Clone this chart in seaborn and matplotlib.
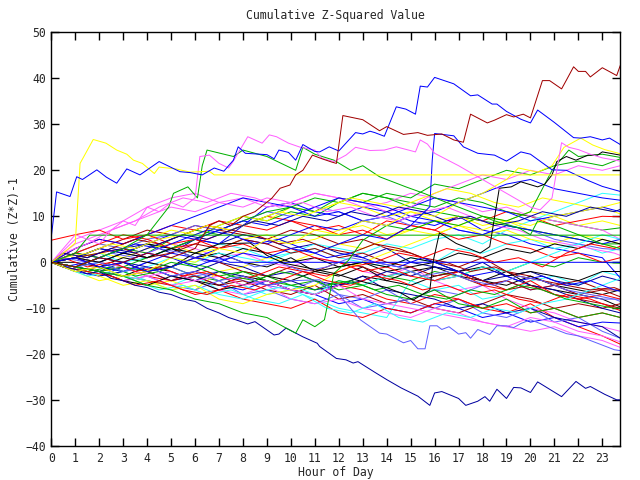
import matplotlib
matplotlib.use("Agg")
import matplotlib.pyplot as plt
import seaborn as sns
import pandas as pd

# ---------------- colours (gnuplot-like) ----------------
RED, GREEN, BLUE, PINK, CYAN = "#ff0000", "#00b000", "#0000ff", "#ff60ff", "#30ffff"
DKRED, YELLOW, BLACK, LTBLUE, NAVY = "#a00000", "#ffff00", "#000000", "#6060ff", "#0000a0"

TITLE = "Cumulative Z-Squared Value"
XLABEL = "Hour of Day"
YLABEL = "Cumulative (Z*Z)-1"
X_TICKS = list(range(0, 24))
Y_TICKS = list(range(-40, 51, 10))

# shared hourly grid for the background "crowd" of series
HOURS = list(range(0, 24)) + [23.75]
# second grid, offset by half an hour
HOURS_B = [0] + [h + 0.5 for h in range(0, 24)] + [23.75]

c01 = [0, -1, -2, -1, -3, -4, -2, -3, -5, -4, -6, -7, -5, -6, -8, -9, -7, -8, -10, -11, -9, -12, -14, -16, -17.8]
c02 = [0, -1, 1, 0, -2, -1, -3, -4, -2, -3, -5, -4, -6, -5, -3, -4, -2, -3, -1, -2, 0, -1, 1, 0, -0.2]
c03 = [0, -2, -3, -1, -2, -4, -3, -5, -6, -4, -6, -7, -9, -8, -10, -11, -9, -10, -12, -11, -13, -12, -14, -13, -13.2]
c04 = [0, 2, 1, 3, 2, 4, 3, 1, 2, 0, -1, 1, 0, -2, -3, -1, -4, -6, -5, -8, -10, -11, -13, -14, -15]
c05 = [0, -1, -3, -2, -4, -5, -3, -6, -5, -7, -6, -8, -10, -11, -12, -4, -6, -5, -8, -7, -4, -3, -5, -2, -3]
c06 = [0, 1, 3, 5, 7, 6, 8, 7, 6, 5, 7, 6, 4, 5, 3, 2, 0, -1, 1, -2, -3, -5, -4, -6, -6]
c07 = [0, -2, -4, -3, -5, -4, -6, -2, -1, 1, 0, 2, 4, 3, 5, 7, 6, 8, 10, 9, 11, 10, 8, 9, 8]
c08 = [0, -1, -2, -3, -1, -2, -4, -5, -3, -4, -6, -7, -5, -3, -4, -2, -1, -3, -4, -2, -5, -6, -7, -8, -9.7]
c09 = [0, 1, -1, -2, 0, -1, -3, -2, -4, -5, -6, -4, -7, -8, -6, -9, -10, -8, -11, -12, -10, -13, -12, -15, -16.5]
c10 = [0, 2, 1, 3, 4, 2, 5, 4, 6, 5, 3, 4, 2, 1, 3, 0, -1, -2, 0, -3, -2, -4, -5, -3, -4]
c11 = [0, 3, 5, 4, 6, 8, 7, 9, 8, 10, 9, 7, 8, 6, 9, 8, 7, 10, 9, 11, 10, 8, 9, 10, 9.9]
c12 = [0, 1, 0, 2, 4, 3, 5, 8, 10, 9, 11, 10, 13, 15, 14, 13, 12, 14, 13, 11, 10, 9, 8, 7, 7.5]
c13 = [0, -1, 0, 2, 1, 3, 5, 4, 8, 12, 13, 11, 10, 12, 11, 9, 8, 10, 7, 6, 4, 3, 2, 1, -3.4]
c14 = [0, 4, 6, 8, 10, 12, 11, 13, 14, 12, 13, 15, 14, 12, 13, 15, 14, 13, 11, 12, 10, 9, 8, 7, 5]
c15 = [0, 1, 2, 0, 1, 3, 2, 4, 3, 1, 2, 4, 3, 2, 4, 3, 5, 6, 4, 7, 9, 11, 13, 15, 14.6]
c16 = [0, -2, -1, -3, -2, -4, -3, -5, -4, -6, -7, -5, -8, -7, -9, -8, -10, -11, -9, -7, -8, -10, -9, -10, -9]
c17 = [0, 2, 4, 3, 5, 7, 6, 8, 10, 9, 12, 11, 13, 12, 10, 11, 9, 10, 8, 9, 7, 6, 5, 4, 3]
c18 = [0, 1, 3, 2, 4, 3, 1, 2, 0, -1, 1, -2, -3, -1, -4, -5, -3, -2, -4, -5, -3, -5, -6, -7, -6]
c19 = [0, -1, -2, -4, -3, -5, -6, -4, -7, -6, -8, -9, -7, -10, -9, -8, -6, -7, -5, -4, -6, -5, -7, -8, -8]
c20 = [0, -1, -3, -2, -1, -3, -2, 0, -1, -3, -2, -4, -5, -3, -6, -7, -8, -10, -9, -11, -10, -12, -13, -14, -16.5]
c21 = [0, -1, -2, -3, -4, -5, -7, -6, -8, -9, -10, -8, -11, -12, -10, -11, -9, -8, -10, -9, -11, -10, -12, -11, -12]
c22 = [0, 2, 1, 3, 2, 5, 7, 6, 8, 10, 12, 11, 14, 13, 15, 14, 17, 16, 18, 20, 19, 21, 22, 21, 22.5]
c23 = [0, 1, -1, -2, 0, 2, 1, 3, 5, 4, 6, 8, 7, 9, 10, 12, 14, 13, 12, 11, 9, 10, 11, 12, 11]
c24 = [0, -1, -2, -4, -3, -5, -4, -6, -7, -5, -8, -9, -8, -10, -11, -12, -10, -11, -13, -14, -15, -14, -16, -17, -18.5]
c25 = [0, -1, 0, -2, -1, 1, 0, 2, 1, 0, 2, 3, 1, 0, -1, 1, 0, 3, 2, 4, 5, 3, 4, 2, 3]
c26 = [0, 1, -1, 0, -2, -1, 1, 0, -2, -3, -1, -2, 0, -1, -3, -2, -4, -3, -5, -4, -6, -5, -7, -6, -7.5]
c27 = [0, 1, 2, 1, 3, 4, 2, 3, 5, 6, 4, 5, 7, 8, 6, 7, 9, 8, 6, 7, 5, 4, 6, 5, 4]
c28 = [0, 0, -1, 1, 0, -1, 2, 1, 3, 2, 0, 1, -1, 0, -2, -1, 0, -2, -1, -3, -2, -3, -4, -2, -2]
c29 = [0, 2, 4, 3, 5, 6, 8, 7, 9, 11, 10, 12, 11, 9, 10, 8, 9, 7, 6, 8, 7, 5, 4, 3, 2.7]
c30 = [0, -1, -2, 0, -1, -3, -4, -2, -3, -5, -4, -6, -5, -4, -2, -3, -1, -2, -4, -3, -5, -6, -8, -10, -11]
c31 = [0, 2, 4, 6, 5, 3, 4, 6, 8, 7, 9, 8, 6, 7, 5, 8, 7, 5, 6, 4, 3, 1, 2, 0, 1]
c32 = [0, -1, -2, -1, 1, 3, 5, 7, 9, 11, 12, 14, 13, 15, 14, 12, 11, 10, 9, 8, 7, 6, 5, 4, 4]
c33 = [0, 3, 5, 4, 6, 8, 10, 12, 14, 13, 12, 10, 11, 9, 8, 10, 9, 7, 6, 8, 7, 6, 5, 4, 5]
c34 = [0, 5, 7, 9, 12, 14, 15, 13, 12, 14, 13, 15, 14, 13, 11, 12, 15, 17, 19, 18, 20, 19, 21, 20, 21]
c35 = [0, -1, -2, -3, -4, -6, -5, -7, -8, -6, -5, -7, -4, -5, -3, -2, -4, -3, -1, -2, 0, 2, 4, 6, 5]
c36 = [0, 1, 2, 3, 1, 2, 4, 3, 5, 4, 2, 3, 1, 2, 0, -1, -3, -2, -4, -6, -5, -7, -8, -9, -10]
c37 = [4.8, 6, 7, 5, 6, 4, 5, 3, 4, 2, 3, 1, 0, -2, -1, -3, -4, -2, -5, -6, -4, -7, -8, -7, -8]
c38 = [0, -1, -3, -5, -4, -6, -5, -8, -9, -7, -6, -5, -2, 0, 2, 4, 6, 8, 7, 9, 8, 10, 11, 12, 13]
c39 = [0, -1, -2, -4, -5, -3, -4, -6, -5, -3, -4, -2, -1, 0, -1, 1, 0, 2, 1, 3, 2, 4, 3, 5, 4]
c40 = [0, 1, 0, -1, -2, 0, -1, -3, -2, -4, -5, -6, -4, -5, -7, -8, -6, -9, -10, -8, -11, -10, -12, -11, -12]
c41 = [0, 1, 0, -1, -3, -2, -4, -3, -5, -4, -6, -7, -5, -8, -9, -10, -11, -12, -13, -14, -12, -13, -15, -16, -17.3]
c42 = [0, 1, 3, 2, 4, 6, 5, 7, 9, 8, 10, 12, 14, 13, 12, 10, 11, 13, 15, 17, 18, 16, 15, 14, 13.5]

d01 = [0, 1, -1, 0, -2, -1, -3, -2, -4, -3, -1, -2, -4, -5, -3, -4, -6, -5, -7, -6, -8, -9, -7, -8, -10, -10.5]
d02 = [0, -1, -3, -2, -4, -6, -5, -7, -6, -8, -9, -7, -10, -11, -9, -12, -13, -11, -12, -10, -11, -9, -8, -6, -4, -3.5]
d03 = [0, 2, 1, 3, 5, 4, 6, 8, 7, 6, 4, 5, 3, 2, 4, 3, 1, 0, -2, -1, -3, -4, -5, -6, -5.5, -6]
d04 = [0, -1, 0, 2, 4, 3, 5, 7, 6, 4, 5, 3, 1, 2, 0, -1, 1, -1, -3, -2, -4, -3, -5, -4, -6, -6.3]
d05 = [0, 2, 4, 7, 9, 12, 14, 13, 15, 14, 12, 13, 11, 12, 10, 9, 11, 12, 10, 8, 7, 5, 4, 3, 2, 1.5]
d06 = [0, 1, 2, 4, 3, 5, 6, 8, 7, 9, 11, 10, 12, 14, 13, 12, 14, 16, 15, 13, 12, 14, 13, 12, 11, 10.5]
d07 = [0, -1, -2, -1, -3, -2, 0, -1, -3, -4, -2, -3, -5, -4, -6, -5, -7, -8, -6, -7, -5, -6, -8, -9, -10, -10]
d08 = [0, 1, 0, 2, 1, 3, 2, 0, 1, -1, 0, -2, -1, 1, 0, -1, -3, -2, -4, -5, -3, -4, -6, -7, -8, -8.5]
d09 = [0, -1, -2, -3, -5, -4, -6, -7, -5, -6, -4, -2, -3, -1, 0, 2, 1, 3, 2, 0, 1, -1, 2, 4, 3, 3.5]
d10 = [0, 2, 1, 3, 2, 4, 6, 5, 7, 9, 8, 10, 9, 11, 10, 12, 11, 9, 10, 8, 9, 11, 10, 12, 11, 11.5]

CROWD = [
    (c01, RED), (c02, GREEN), (c03, BLUE), (c04, PINK), (c05, CYAN), (c06, DKRED), (c07, YELLOW),
    (c08, BLACK), (c09, LTBLUE), (c10, NAVY), (c11, RED), (c12, GREEN), (c13, BLUE), (c14, PINK),
    (c15, CYAN), (c16, DKRED), (c17, YELLOW), (c18, BLACK), (c19, LTBLUE), (c20, NAVY), (c21, RED),
    (c22, GREEN), (c23, BLUE), (c24, PINK), (c25, CYAN), (c26, DKRED), (c27, YELLOW), (c28, BLACK),
    (c29, LTBLUE), (c30, NAVY), (c31, RED), (c32, GREEN), (c33, BLUE), (c34, PINK), (c35, CYAN),
    (c36, DKRED), (c37, RED), (c38, YELLOW), (c39, BLACK), (c40, GREEN), (c41, PINK), (c42, BLUE),
]
CROWD_B = [
    (d01, RED), (d02, CYAN), (d03, DKRED), (d04, BLUE), (d05, PINK),
    (d06, YELLOW), (d07, GREEN), (d08, LTBLUE), (d09, RED), (d10, NAVY),
]

# ---------------- individually traced series: (hour, value) ----------------
darkred_top = [(0, 0), (1, -1), (2, 1), (3, 0), (4, 2), (5, 1), (6, 3), (6.6, 8), (7, 9), (7.5, 8), (8, 10),
               (8.5, 11), (9.2, 13.9), (9.55, 16.1), (9.96, 16.8), (10.2, 19), (10.5, 20), (10.9, 23.3),
               (11.3, 22.5), (11.7, 21.8), (11.9, 21.5), (12.17, 31.9), (13.0, 31.0), (13.7, 28.6),
               (14.0, 29.5), (14.7, 27.8), (15.3, 28.2), (15.7, 27.6), (16.3, 27.9), (16.8, 26.6),
               (17.2, 26.1), (17.5, 32.2), (18.2, 30.3), (18.5, 30.9), (19.0, 32.1), (19.3, 31.6),
               (19.7, 32.2), (20.0, 31.4), (20.5, 39.5), (20.8, 39.5), (21.3, 37.7), (21.5, 39.6),
               (21.8, 42.5), (22.0, 41.5), (22.3, 41.5), (22.5, 40.3), (23.0, 42.3), (23.6, 40.6), (23.75, 42.8)]
blue_top = [(0, 5.6), (0.22, 15.3), (0.78, 14.3), (1.06, 18.6), (1.3, 18), (1.9, 20.1), (2.3, 18.5),
            (2.73, 17.2), (3.15, 20.3), (3.7, 19), (4.5, 21.9), (5.37, 19.7), (5.8, 19.5), (6.3, 19),
            (6.8, 20.5), (7.2, 19.8), (7.6, 22.2), (7.8, 25.1), (8.1, 23.7), (9.0, 23.4), (9.3, 22.5),
            (9.5, 24.4), (9.9, 23.9), (10.2, 22.2), (10.5, 25.6), (11.0, 24.1), (11.2, 24.0), (11.6, 25.1),
            (12.0, 24.2), (12.7, 28.2), (13.0, 27.9), (13.3, 28.5), (13.5, 28.2), (13.9, 27.4), (14.4, 33.8),
            (14.8, 33.3), (15.2, 32.2), (15.4, 38.3), (15.7, 38.1), (16.0, 40.2), (16.8, 38.8), (17.5, 36.2),
            (17.8, 36.4), (18.4, 34.4), (18.6, 34.4), (19.0, 32.8), (19.6, 31.1), (20.0, 30.3), (20.3, 33.1),
            (21.0, 30.4), (21.8, 27.1), (22.1, 27.0), (22.5, 27.3), (23.0, 26.6), (23.3, 27.0), (23.75, 25.6)]
yellow_top = [(0, 0), (0.5, 2), (1.0, 4.2), (1.2, 21.5), (1.75, 26.7), (2.28, 25.9), (2.73, 24.4),
              (3.15, 23.5), (3.43, 22.2), (3.8, 21.5), (4.3, 19.3), (4.5, 20.7), (5.2, 20.3), (5.8, 19.6),
              (6.6, 19.8), (6.8, 19.0), (23.75, 19.0)]
navy_bottom = [(0, 0), (0.5, -1), (1, -1.5), (1.5, -2.5), (2, -2), (2.5, -3.5), (3, -4), (3.5, -5), (4, -5.5),
               (4.5, -6.5), (5, -7), (5.5, -8), (6, -8.5), (6.5, -10), (7, -11), (7.4, -12), (7.7, -12.5),
               (8.2, -13.4), (8.5, -12.9), (9.3, -15.8), (9.5, -15.6), (9.8, -14.3), (10.5, -16.2),
               (11.1, -17.6), (11.2, -18.3), (11.9, -20.9), (12.3, -21.2), (12.6, -21.9), (12.8, -21.6),
               (13.5, -23.9), (14.0, -25.5), (14.6, -27.3), (15.3, -29.1), (15.8, -31.1), (16.0, -28.4),
               (16.3, -28.1), (17.0, -29.6), (17.3, -31.1), (17.8, -30.2), (18.1, -29.2), (18.3, -30.2),
               (18.6, -27.6), (19.0, -29.6), (19.3, -27.2), (19.6, -27.3), (20.0, -28.3), (20.3, -26.0),
               (21.3, -29.2), (21.9, -25.9), (22.3, -27.4), (22.5, -27.0), (23.1, -28.7), (23.6, -29.9),
               (23.75, -29.9)]
ltblue_low = [(0, 0), (1, -1), (2, 0), (3, -2), (4, -1), (5, -3), (6, -2), (7, -4), (8, -3), (9, -5), (10, -4),
              (11.2, -3.8), (12, -7), (12.9, -12.5), (13.7, -15.4), (14.0, -15.6), (14.7, -17.5), (15.0, -17),
              (15.3, -18.8), (15.6, -18.8), (15.8, -13.8), (16.1, -13.8), (16.3, -14.6), (16.6, -14.0),
              (17.0, -15.6), (17.3, -15.3), (17.5, -16.5), (17.8, -14.6), (18.3, -15.7), (18.6, -13.8),
              (19.0, -13.8), (19.3, -14.2), (19.6, -13.3), (20.0, -12.5), (20.5, -13.5), (21, -14.5),
              (21.5, -15.5), (22, -16), (22.5, -17), (23, -18), (23.5, -19), (23.75, -19.2)]
green_flat = [(0, 0), (0.5, 1), (1, 2), (1.3, 4), (1.6, 5.9), (23.75, 5.9)]
blue_flat = [(0, 0), (1, -1), (2, 1), (3, 0), (4, 2), (5, 1), (6, -1), (7, 1), (7.45, 0), (23.75, 0)]
black_jumps = [(0, 0), (1, 1), (2, 0), (3, 2), (4, 1), (5, 3), (6, 2), (7, 4), (8.3, 4.2), (9.0, 1.5),
               (9.7, -0.2), (10.5, -1), (11.8, -2.4), (12.5, -3.5), (13.2, -4.5), (14, -5.5), (14.6, -6.7),
               (15.1, -8.2), (15.8, -6.0), (15.95, 0.5), (16.2, 6.4), (16.9, 4.1), (17.9, 2.0), (18.3, 3.4),
               (18.7, 16.1), (19.2, 16.4), (19.6, 17.5), (20.3, 16.4), (20.6, 17), (20.9, 19.0), (21.1, 21.9),
               (21.5, 23.0), (21.9, 22.2), (22.4, 23.3), (22.8, 23.3), (23.0, 24.0), (23.75, 23.3)]
green_upper = [(0, 0), (1, -1), (2, 1), (3, 3), (4, 6), (4.9, 12), (5.1, 15), (5.7, 16.4), (6.1, 14), (6.3, 21),
               (6.5, 24.4), (7.6, 23), (8.0, 24.4), (9.0, 23), (10.2, 20), (10.5, 25), (11, 23.5), (11.8, 22.2),
               (12.5, 20), (13, 21), (13.7, 18.6), (14.8, 16.4), (15.6, 14.9), (16.5, 13), (17.5, 11),
               (18.5, 9), (19.5, 7.5), (20, 6), (20.3, 9), (21, 8), (22, 6), (23, 4), (23.75, 3)]
green_jump = [(0, 0), (1, -1), (2, -2), (3, -3), (4, -5), (5, -6), (6, -8), (7, -9), (8, -11), (9, -12),
              (9.8, -14.3), (10.2, -15.4), (10.5, -12.5), (11, -14), (11.4, -12.5), (11.8, -2.4), (12.4, 0.4),
              (13, 4.8), (14, 8), (15, 7), (16, 9), (17, 8), (18, 10), (19, 9), (20, 11), (20.9, 20),
              (21.6, 24.4), (22, 23), (23, 23.5), (23.75, 22.8)]
pink_upper = [(0, 0), (0.5, 3), (1, 6), (1.5, 5), (2, 4), (2.5, 7), (3, 9), (3.5, 8), (4, 12), (4.5, 11),
              (5, 13), (5.5, 12), (6, 14), (6.2, 23), (6.6, 23.3), (7.0, 21.5), (7.4, 20.5), (7.6, 22),
              (8.2, 27.3), (8.8, 25.9), (9.1, 27.7), (9.4, 27.3), (9.9, 25.9), (10.4, 25.0), (11.0, 24.4),
              (11.3, 22.6), (11.8, 21.9), (12.3, 23.3), (12.7, 25), (13.3, 24.3), (13.9, 24.4), (14.4, 25.1),
              (15.2, 24), (15.4, 26.6), (15.7, 25.7), (16.0, 23.7), (17, 21), (18, 18), (19, 15), (20, 12),
              (20.4, 11.4), (20.9, 14), (21.3, 26), (21.6, 25), (22, 24.5), (22.5, 23.5), (23, 22.7), (23.75, 22)]
yellow_arc = [(0, 0), (1, -2), (2, -1), (3, -3), (4, -2), (5, 1), (6, 0), (7, 3), (8, 2), (9, 5), (10, 4),
              (11, 7), (12, 6), (13, 9), (14, 8), (15, 11), (16, 10), (17, 13), (18, 15), (19, 18),
              (19.5, 20.5), (20.3, 19.6), (20.9, 21), (21.4, 25), (22.1, 27), (22.6, 25.5), (23.1, 24.5),
              (23.75, 23.6)]
blue_jump = [(0, 0), (1, 1), (2, -1), (3, 0), (4, -2), (5, -1), (6, 1), (7, 0), (8, 2), (9, 1), (10, 3),
             (11, 2), (12, 4), (13, 6), (14, 5), (15, 8), (15.8, 12.1), (15.9, 22.2), (16.0, 28), (16.8, 27.5),
             (17.2, 25.1), (17.8, 23.7), (18.5, 23.3), (19, 22), (19.6, 24), (20, 23.5), (20.9, 20.1),
             (21.5, 20), (22.4, 17.8), (23, 16.5), (23.75, 15.4)]

TRACED = [
    (green_flat, GREEN), (blue_flat, BLUE), (ltblue_low, LTBLUE), (navy_bottom, NAVY),
    (green_jump, GREEN), (black_jumps, BLACK), (yellow_arc, YELLOW), (blue_jump, BLUE),
    (green_upper, GREEN), (pink_upper, PINK), (yellow_top, YELLOW), (blue_top, BLUE),
    (darkred_top, DKRED),
]

# ---------------- build long table ----------------
rows = []
palette = {}
order = []


def add(name, col, hs, vs):
    palette[name] = col
    order.append(name)
    for h, v in zip(hs, vs):
        rows.append((name, h, v))


for i, (vals, col) in enumerate(CROWD):
    add(f"c{i:02d}", col, HOURS, vals)
for i, (vals, col) in enumerate(CROWD_B):
    add(f"d{i:02d}", col, HOURS_B, vals)
for i, (pts, col) in enumerate(TRACED):
    add(f"t{i:02d}", col, [p[0] for p in pts], [p[1] for p in pts])
df = pd.DataFrame(rows, columns=["series", "hour", "value"])

# ---------------- draw ----------------
sns.set_style("ticks")
plt.rcParams["font.family"] = ["DejaVu Sans Mono", "DejaVu Sans"]
plt.rcParams["xtick.direction"] = "in"
plt.rcParams["ytick.direction"] = "in"

fig = plt.figure(figsize=(6.4, 4.8), dpi=100)
ax = fig.add_axes([0.0802, 0.0702, 0.9692 - 0.0802, 0.9327 - 0.0702])

sns.lineplot(data=df, x="hour", y="value", hue="series", hue_order=order, palette=palette,
             estimator=None, sort=False, legend=False, linewidth=0.72, ax=ax, antialiased=True)

ax.set_xlim(0, 23.75)
ax.set_ylim(-40, 50)
ax.set_xticks(X_TICKS)
ax.set_yticks(Y_TICKS)
ax.tick_params(axis="both", which="major", length=6, width=1, labelsize=8.3, color="black",
               top=True, right=True, pad=4)
for sp in ax.spines.values():
    sp.set_linewidth(1)
    sp.set_color("black")
ax.set_xlabel(XLABEL, fontsize=8.3, labelpad=1)
ax.set_ylabel(YLABEL, fontsize=8.3, labelpad=3)
fig.text(0.5 * (0.0802 + 0.9692), 1 - 15 / 480, TITLE, ha="center", va="center", fontsize=8.3)

fig.savefig("out.png", dpi=100)
